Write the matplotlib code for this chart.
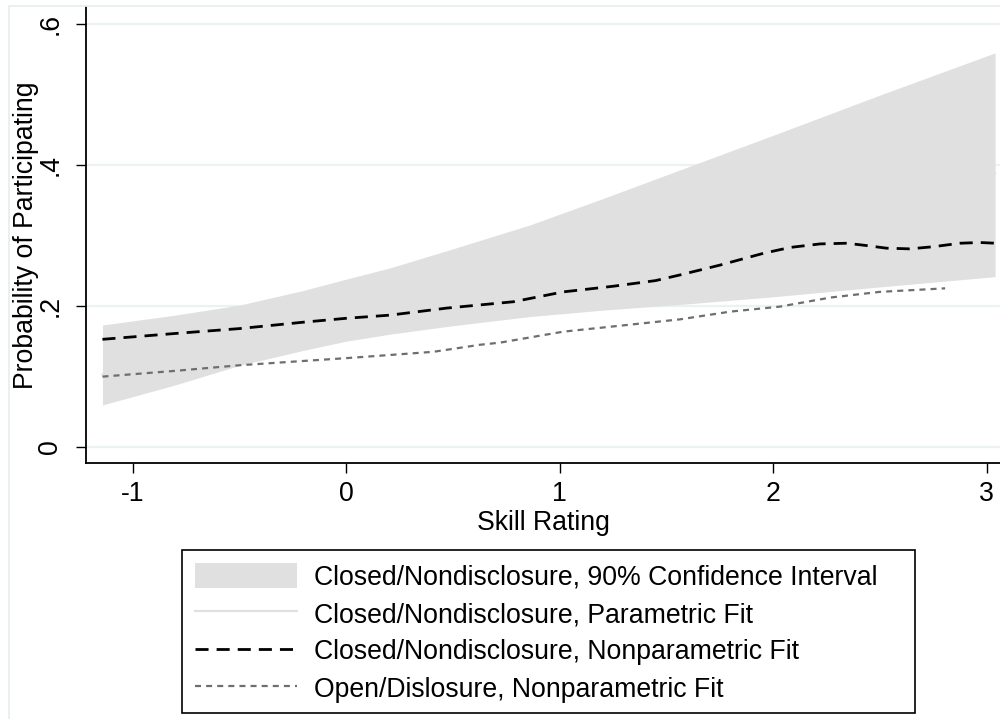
import matplotlib
matplotlib.use("Agg")
import matplotlib.pyplot as plt
from matplotlib.patches import Rectangle
from matplotlib.lines import Line2D
from matplotlib.patches import Patch

plt.rcParams['font.family'] = ['Liberation Sans', 'DejaVu Sans']

# ---- data ----
ci_x = [-1.141, -0.8, -0.496, -0.2, 0.0, 0.206, 0.5, 0.862, 1.2, 1.6, 2.0, 2.5, 3.04]
ci_upper = [0.173, 0.187, 0.2014, 0.222, 0.238, 0.254, 0.281, 0.315, 0.352, 0.397, 0.442, 0.499, 0.559]
ci_lower = [0.0596, 0.088, 0.116, 0.137, 0.150, 0.160, 0.172, 0.185, 0.194, 0.203, 0.213, 0.227, 0.2416]

param_x = [-1.141, 0.0, 1.0, 2.0, 3.04]
param_y = [0.103, 0.190, 0.254, 0.318, 0.388]

closed_x = [-1.141, -0.8, -0.496, -0.2, 0.0, 0.206, 0.472, 0.784, 1.018, 1.252, 1.45,
            1.564, 1.752, 1.955, 2.08, 2.22, 2.345, 2.44, 2.53, 2.64, 2.75, 2.876, 2.97, 3.04]
closed_y = [0.1527, 0.161, 0.168, 0.177, 0.1825, 0.187, 0.197, 0.206, 0.220, 0.228, 0.236,
            0.244, 0.258, 0.2747, 0.283, 0.288, 0.289, 0.2856, 0.282, 0.281, 0.284, 0.289, 0.290, 0.289]

open_x = [-1.141, -0.8, -0.496, -0.2, 0.0, 0.206, 0.409, 0.628, 0.721, 1.018, 1.252,
          1.564, 1.80, 2.03, 2.27, 2.50, 2.806]
open_y = [0.0998, 0.108, 0.116, 0.122, 0.126, 0.1305, 0.135, 0.145, 0.148, 0.1636, 0.171,
          0.181, 0.192, 0.199, 0.212, 0.220, 0.225]

x_ticks = [-1, 0, 1, 2, 3]
x_ticklabels = ['-1', '0', '1', '2', '3']
y_ticks = [0, 0.2, 0.4, 0.6]
y_ticklabels = ['0', '.2', '.4', '.6']

labels = ['Closed/Nondisclosure, 90% Confidence Interval',
          'Closed/Nondisclosure, Parametric Fit',
          'Closed/Nondisclosure, Nonparametric Fit',
          'Open/Dislosure, Nonparametric Fit']

# ---- style ----
W, H = 1000, 719
FS = 19.2
band_col = '#e0e0e0'
grid_col = '#eaf2f3'
open_col = '#6e6e6e'

fig = plt.figure(figsize=(W / 100, H / 100), dpi=100)
fig.patch.set_facecolor('white')

# outer graph-region frame (light)
fig.patches.append(Rectangle((9 / W, -0.05), 1.2, 1 - 6 / H + 0.05, transform=fig.transFigure,
                             fill=False, edgecolor='#e6eef0', linewidth=1.2, zorder=0))

ax_l, ax_r, ax_t, ax_b = 86, 1000, 7, 463
ax = fig.add_axes([ax_l / W, 1 - ax_b / H, (ax_r - ax_l) / W, (ax_b - ax_t) / H])
ax.set_facecolor('white')

ax.set_xlim(-1.218, 3.063)
ax.set_ylim(-0.0227, 0.624)

ax.fill_between(ci_x, ci_lower, ci_upper, color=band_col, linewidth=0, zorder=2)
ax.plot(param_x, param_y, color=band_col, linewidth=1.5, zorder=2.5)
ax.plot(closed_x, closed_y, color='black', linewidth=2.0, dashes=(4.7, 2.9), zorder=3)
ax.plot(open_x, open_y, color=open_col, linewidth=1.6, dashes=(2.7, 2.3), zorder=3)

for s in ['top', 'right']:
    ax.spines[s].set_visible(False)
for s in ['left', 'bottom']:
    ax.spines[s].set_linewidth(1.3)
    ax.spines[s].set_color('black')

ax.set_yticks(y_ticks)
ax.set_yticklabels(y_ticklabels, fontsize=FS, rotation=90, va='center')
ax.set_xticks(x_ticks)
ax.set_xticklabels(x_ticklabels, fontsize=FS)
ax.tick_params(axis='both', length=7.2, width=1.0, color='black')
ax.tick_params(axis='y', pad=9)
ax.tick_params(axis='x', pad=6)

ax.yaxis.grid(True, color=grid_col, linewidth=1.6, zorder=1)
ax.set_axisbelow(True)

ax.set_xlabel('Skill Rating', fontsize=FS, labelpad=2)
ax.set_ylabel('Probability of Participating', fontsize=FS)
ax.yaxis.set_label_coords((39 - ax_l) / (ax_r - ax_l), 0.5)

# legend
handles = [Patch(facecolor=band_col, edgecolor='none'),
           Line2D([], [], color=band_col, linewidth=1.5),
           Line2D([], [], color='black', linewidth=2.0, dashes=(4.7, 2.9)),
           Line2D([], [], color=open_col, linewidth=1.6, dashes=(2.7, 2.3))]
leg = fig.legend(handles, labels, loc='upper left',
                 bbox_to_anchor=(182 / W, 1 - 550 / H), borderaxespad=0,
                 frameon=False, fontsize=FS, handlelength=3.8, handleheight=1.05,
                 handletextpad=0.64, labelspacing=0.37, borderpad=0.5)
fig.patches.append(Rectangle((182 / W, 1 - 713 / H), (915 - 182) / W, (713 - 550) / H,
                             transform=fig.transFigure, fill=False, edgecolor='black',
                             linewidth=1.2, zorder=5))

fig.savefig('out.png', dpi=100, facecolor='white')
